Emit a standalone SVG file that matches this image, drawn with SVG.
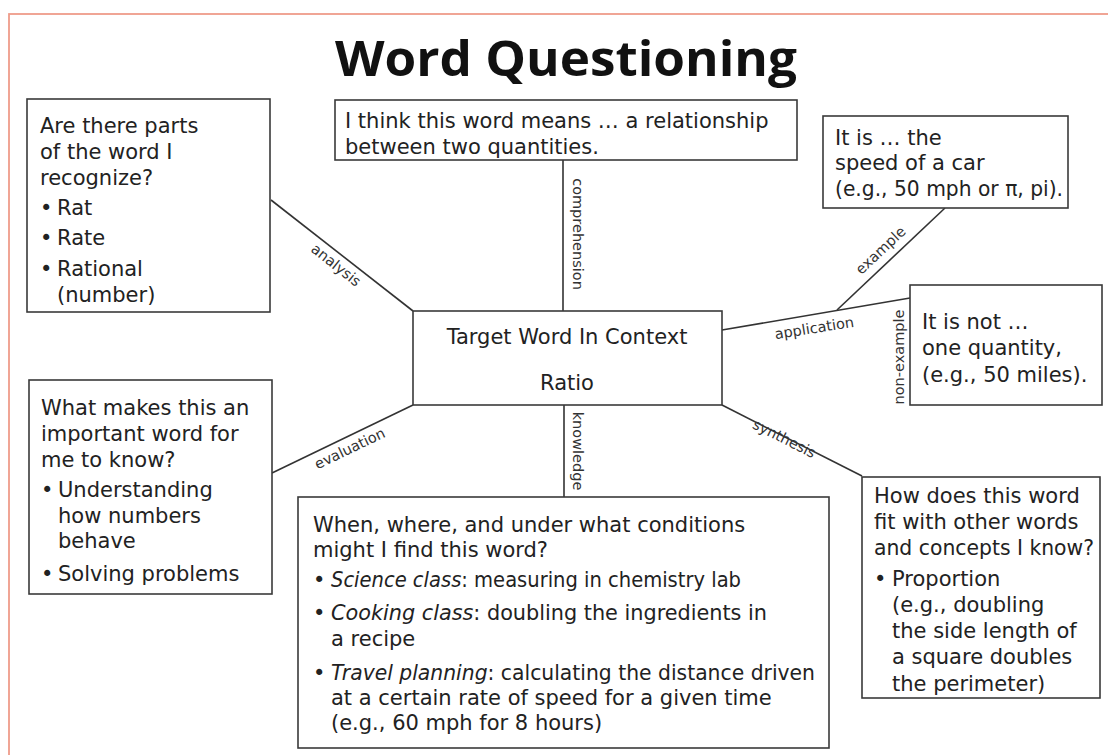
<svg xmlns="http://www.w3.org/2000/svg" width="1108" height="755" viewBox="0 0 1108 755">
<style>
.box{fill:#fff;stroke:#3a3a3a;stroke-width:1.6}
.t{font-family:"DejaVu Sans","Open Sans",sans-serif;font-size:21px;fill:#222}
.lbl{font-family:"DejaVu Sans","Open Sans",sans-serif;font-size:14.5px;fill:#333}
.ln{stroke:#333;stroke-width:1.6;fill:none}
.it{font-style:italic}
</style>
<rect width="1108" height="755" fill="#fff"/>
<rect x="9" y="14" width="1120" height="760" fill="none" stroke="#ef9c8a" stroke-width="1.8"/>
<text x="566" y="76" text-anchor="middle" font-family="'Open Sans','Liberation Sans',sans-serif" font-weight="bold" font-size="49" fill="#111" textLength="462" lengthAdjust="spacingAndGlyphs">Word Questioning</text>

<g id="connectors">
  <line class="ln" x1="271" y1="200" x2="413" y2="311"/>
  <text class="lbl" transform="translate(333,269) rotate(38.5)" text-anchor="middle">analysis</text>
  <line class="ln" x1="563" y1="160" x2="563" y2="311"/>
  <text class="lbl" transform="translate(573,234) rotate(90)" text-anchor="middle">comprehension</text>
  <line class="ln" x1="945" y1="208" x2="837" y2="310"/>
  <text class="lbl" transform="translate(884,254) rotate(-43)" text-anchor="middle">example</text>
  <line class="ln" x1="722" y1="330" x2="910" y2="298"/>
  <text class="lbl" transform="translate(815,333) rotate(-9)" text-anchor="middle">application</text>
  <text class="lbl" transform="translate(904,357) rotate(-90)" text-anchor="middle">non-example</text>
  <line class="ln" x1="272" y1="473" x2="413" y2="405"/>
  <text class="lbl" transform="translate(352,453) rotate(-25.5)" text-anchor="middle">evaluation</text>
  <line class="ln" x1="564" y1="405" x2="564" y2="497"/>
  <text class="lbl" transform="translate(573,451) rotate(90)" text-anchor="middle">knowledge</text>
  <line class="ln" x1="722" y1="405" x2="862" y2="476"/>
  <text class="lbl" transform="translate(782,443) rotate(26.7)" text-anchor="middle">synthesis</text>
</g>

<g id="parts">
  <rect class="box" x="27" y="99" width="243" height="213"/>
  <text class="t" x="40" y="133">Are there parts</text>
  <text class="t" x="40" y="159">of the word I</text>
  <text class="t" x="40" y="185">recognize?</text>
  <text class="t" x="40" y="215">•</text><text class="t" x="57" y="215">Rat</text>
  <text class="t" x="40" y="245">•</text><text class="t" x="57" y="245">Rate</text>
  <text class="t" x="40" y="276">•</text><text class="t" x="57" y="276">Rational</text>
  <text class="t" x="57" y="302">(number)</text>
</g>

<g id="comprehension-node">
  <rect class="box" x="335" y="100" width="462" height="60"/>
  <text class="t" x="345" y="128">I think this word means … a relationship</text>
  <text class="t" x="345" y="154">between two quantities.</text>
</g>

<g id="example-node">
  <rect class="box" x="823" y="116" width="245" height="92"/>
  <text class="t" x="835" y="145">It is … the</text>
  <text class="t" x="835" y="170">speed of a car</text>
  <text class="t" x="835" y="196" textLength="228" lengthAdjust="spacingAndGlyphs">(e.g., 50 mph or π, pi).</text>
</g>

<g id="target">
  <rect class="box" x="413" y="311" width="309" height="94"/>
  <text class="t" x="567" y="344" text-anchor="middle">Target Word In Context</text>
  <text class="t" x="567" y="390" text-anchor="middle">Ratio</text>
</g>

<g id="non-example-node">
  <rect class="box" x="910" y="285" width="192" height="120"/>
  <text class="t" x="922" y="329">It is not …</text>
  <text class="t" x="922" y="355">one quantity,</text>
  <text class="t" x="922" y="382">(e.g., 50 miles).</text>
</g>

<g id="evaluation-node">
  <rect class="box" x="29" y="380" width="243" height="214"/>
  <text class="t" x="41" y="415">What makes this an</text>
  <text class="t" x="41" y="441">important word for</text>
  <text class="t" x="41" y="467">me to know?</text>
  <text class="t" x="41" y="497">•</text><text class="t" x="58" y="497">Understanding</text>
  <text class="t" x="58" y="523">how numbers</text>
  <text class="t" x="58" y="548">behave</text>
  <text class="t" x="41" y="581">•</text><text class="t" x="58" y="581">Solving problems</text>
</g>

<g id="knowledge-node">
  <rect class="box" x="298" y="497" width="531" height="251"/>
  <text class="t" x="313" y="532">When, where, and under what conditions</text>
  <text class="t" x="313" y="557">might I find this word?</text>
  <text class="t" x="313" y="587">•</text><text class="t" x="331" y="587" textLength="410" lengthAdjust="spacingAndGlyphs"><tspan class="it">Science class</tspan>: measuring in chemistry lab</text>
  <text class="t" x="313" y="620">•</text><text class="t" x="331" y="620" textLength="436" lengthAdjust="spacingAndGlyphs"><tspan class="it">Cooking class</tspan>:  doubling the ingredients in</text>
  <text class="t" x="331" y="646">a recipe</text>
  <text class="t" x="313" y="680">•</text><text class="t" x="331" y="680" textLength="484" lengthAdjust="spacingAndGlyphs"><tspan class="it">Travel planning</tspan>: calculating the distance driven</text>
  <text class="t" x="331" y="705">at a certain rate of speed for a given time</text>
  <text class="t" x="331" y="730">(e.g., 60 mph for 8 hours)</text>
</g>

<g id="synthesis-node">
  <rect class="box" x="862" y="477" width="238" height="221"/>
  <text class="t" x="874" y="503">How does this word</text>
  <text class="t" x="874" y="529">fit with other words</text>
  <text class="t" x="874" y="555" textLength="220" lengthAdjust="spacingAndGlyphs">and concepts I know?</text>
  <text class="t" x="874" y="586">•</text><text class="t" x="892" y="586">Proportion</text>
  <text class="t" x="892" y="612">(e.g., doubling</text>
  <text class="t" x="892" y="638">the side length of</text>
  <text class="t" x="892" y="664">a square doubles</text>
  <text class="t" x="892" y="691">the perimeter)</text>
</g>
</svg>
